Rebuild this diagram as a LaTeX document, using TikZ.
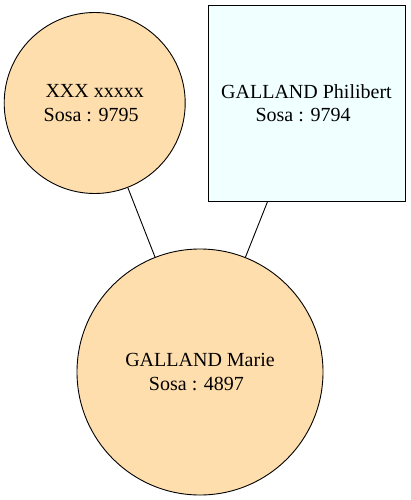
\documentclass[tikz,border=0pt]{standalone}
\usepackage{fontspec}
\setmainfont{Liberation Serif}
\definecolor{personF}{HTML}{FFDEAD}
\definecolor{personM}{HTML}{F0FFFF}
\begin{document}
\begin{tikzpicture}[x=1pt,y=-1pt,
  every node/.style={font=\fontsize{20}{23.3}\selectfont, align=center, draw=black, line width=0.9pt, inner sep=0pt},
  femme/.style={circle, fill=personF},
  homme/.style={rectangle, fill=personM, minimum width=197pt, minimum height=196pt},
  lien/.style={draw=black, line width=0.9pt}]
\useasboundingbox (0,0) rectangle (410,500);
\node[femme, minimum size=181pt] (mere) at (94.7,103) {XXX xxxxx\\Sosa : 9795\hspace*{7pt}};
\node[homme] (pere) at (306.5,103) {GALLAND Philibert\\Sosa : 9794\hspace*{7pt}};
\node[femme, minimum size=246pt] (enfant) at (200,372) {GALLAND Marie\\Sosa : 4897\hspace*{7pt}};
\draw[lien] (mere) -- (enfant);
\draw[lien] (pere) -- (enfant);
\end{tikzpicture}
\end{document}
